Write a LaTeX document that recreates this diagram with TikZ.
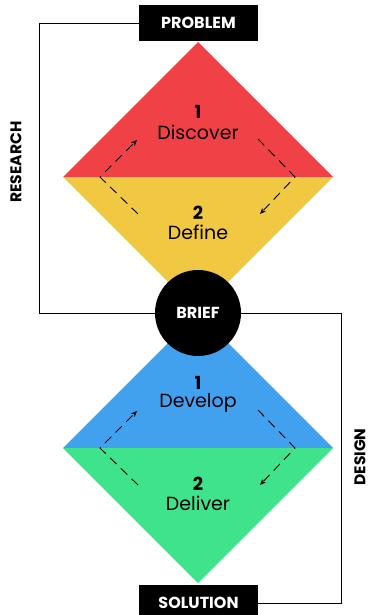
\documentclass[tikz,border=0pt]{standalone}
\usepackage{fontspec}
\setmainfont{Poppins}
\usetikzlibrary{arrows.meta}

\definecolor{discoverred}{RGB}{240,66,70}
\definecolor{defineyellow}{RGB}{241,200,66}
\definecolor{developblue}{RGB}{66,161,238}
\definecolor{delivergreen}{RGB}{62,227,139}

\begin{document}
\begin{tikzpicture}[x=1pt, y=-1pt,
	blackbox/.style={fill=black, text=white, font=\fontsize{16}{16}\selectfont\bfseries,
		minimum width=119pt, minimum height=36pt, inner sep=0pt},
	sidelabel/.style={rotate=90, font=\fontsize{15.5}{15.5}\selectfont\bfseries, inner sep=0pt},
	phasenum/.style={font=\fontsize{18}{18}\selectfont\bfseries, inner sep=0pt},
	phasename/.style={font=\fontsize{19}{19}\selectfont, inner sep=0pt},
	loopline/.style={line width=0.9pt, dash pattern=on 9pt off 6pt, -{Stealth[length=6pt, width=5pt]}},
	frameline/.style={line width=0.9pt}]
	\useasboundingbox (0,0) rectangle (370,615);
	\clip (0,0) rectangle (370,615);

	% --- the two diamonds, each split in an upper and a lower half
	\foreach \apex/\upper/\lower/\first/\second in {
		42 /discoverred/defineyellow/Discover/Define,
		313/developblue/delivergreen/Develop/Deliver} {
		\fill[\upper] (198,\apex) -- (333,\apex+135) -- (63,\apex+135) -- cycle;
		\fill[\lower] (63,\apex+135) -- (333,\apex+135) -- (198,\apex+270) -- cycle;

		% numbers and phase names
		\node[phasenum]  (num1-\first)   at (198,\apex+70)  {1};
		\node[phasename] (name-\first)   at (198,\apex+90)  {\first};
		\node[phasenum]  (num2-\second)  at (198,\apex+171) {2};
		\node[phasename] (name-\second)  at (198,\apex+190) {\second};

		% dashed loop round the names
		\coordinate (loopL-\first) at (100,\apex+135);
		\coordinate (loopR-\first) at (295,\apex+135);
		\draw[loopline] (138,\apex+172) -- (loopL-\first) -- (137,\apex+98);
		\draw[loopline] (258,\apex+97) -- (loopR-\first) -- (260,\apex+172);
	}

	% --- boxes and the brief in the middle
	\node[blackbox] (problem) at (198.5,23) {PROBLEM};
	\node[circle, fill=black, text=white, minimum size=86pt, inner sep=0pt,
		font=\fontsize{16}{16}\selectfont\bfseries] (brief) at (198,313) {BRIEF};
	\node[blackbox] (solution) at (198.5,603) {SOLUTION};

	% --- side lines
	\coordinate (researchcorner) at (39,23);
	\coordinate (designcorner) at (341,313);
	\draw[frameline] (problem.west) -- (researchcorner) |- (brief.west);
	\draw[frameline] (brief.east) -- (designcorner) |- (solution.east);

	\node[sidelabel] (research) at (16,162) {RESEARCH};
	\node[sidelabel] (design) at (360,457) {DESIGN};
\end{tikzpicture}
\end{document}
